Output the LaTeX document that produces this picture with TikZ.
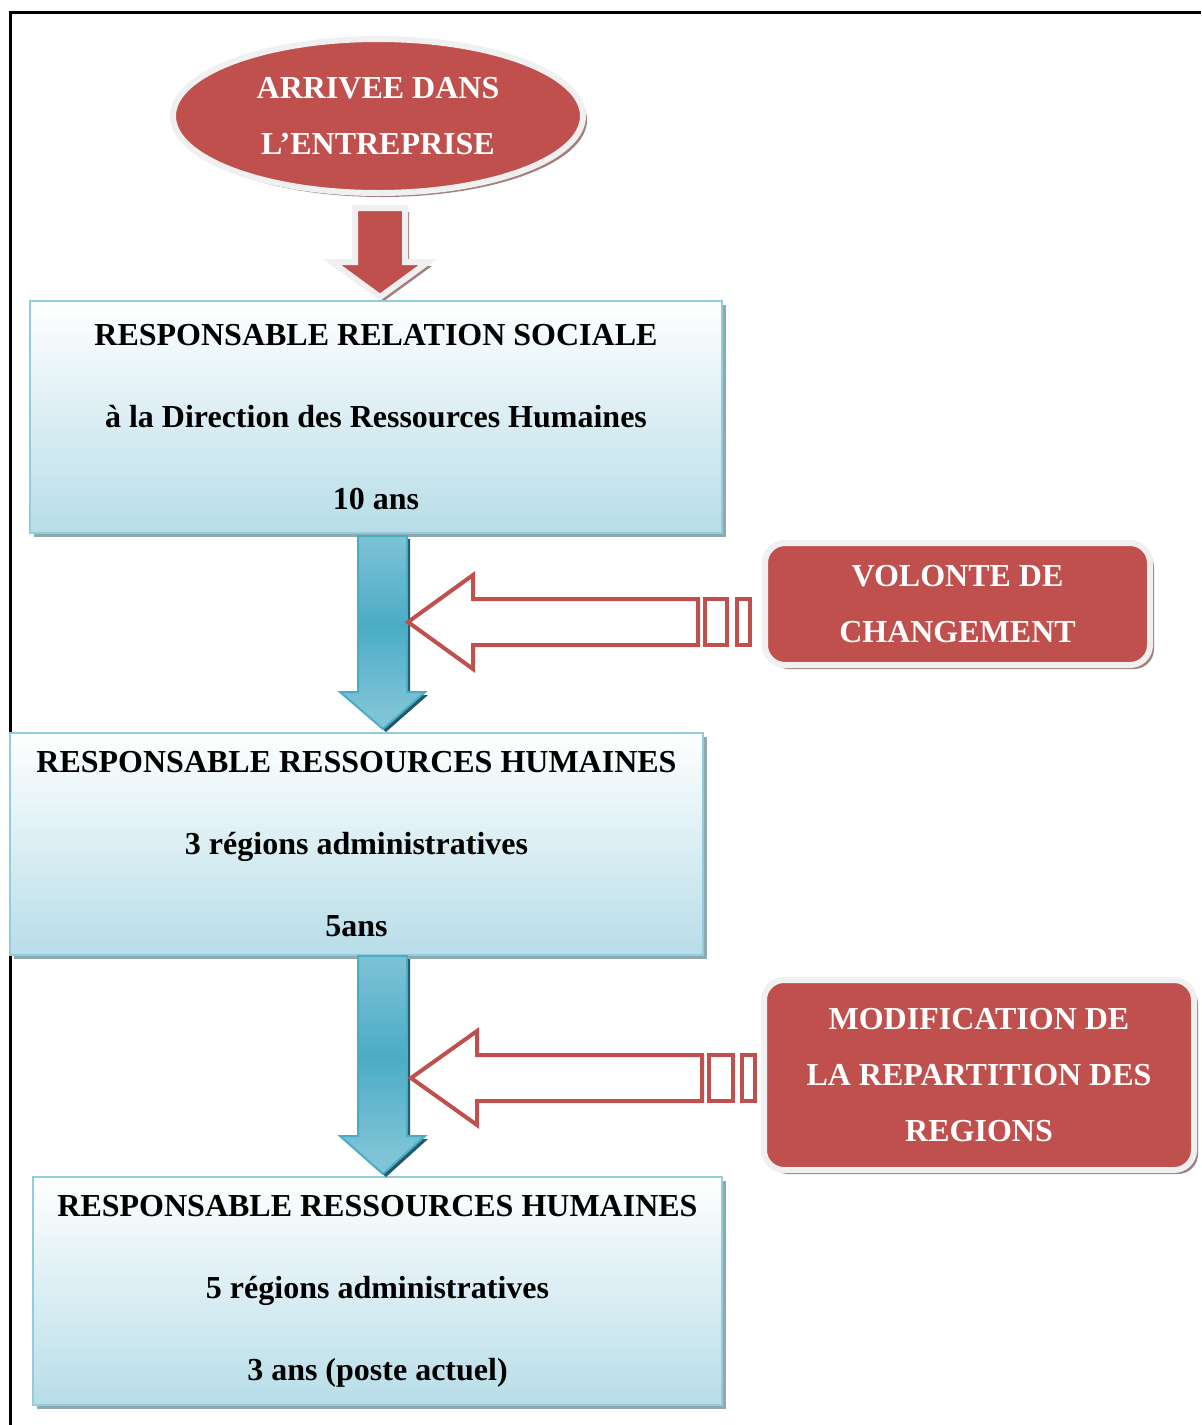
\documentclass[tikz,border=0pt]{standalone}
\usepackage{fontspec}
\setmainfont{Liberation Serif}
\usetikzlibrary{positioning,shapes.geometric,shadows}
\definecolor{brique}{HTML}{C0504D}
\definecolor{ombrerouge}{HTML}{A37E7D}
\definecolor{ciel}{HTML}{B7DDE8}
\definecolor{bordbleu}{HTML}{93CDDD}
\definecolor{bleufonce}{HTML}{4BACC6}
\definecolor{ombrebleu}{HTML}{215968}
\definecolor{ombregris}{HTML}{8FA9B0}
\definecolor{liseret}{HTML}{F0F0F0}
\pgfdeclareverticalshading{passage}{100bp}{%
  color(0bp)=(bordbleu); color(30bp)=(bordbleu!70!bleufonce);
  color(52bp)=(bleufonce); color(75bp)=(bordbleu!70!bleufonce);
  color(100bp)=(bordbleu)}

\begin{document}
\begin{tikzpicture}[%
    x=0.5pt,
    y=-0.5pt,
    poste/.style={%
      rectangle,
      draw=bordbleu,
      line width=1pt,
      top color=white,
      bottom color=ciel,
      align=center,
      inner sep=0pt,
      drop shadow={shadow xshift=2pt, shadow yshift=-2pt, fill=ombregris, opacity=1},
      font=\fontsize{16}{41}\selectfont\bfseries
    },
    evenement/.style={%
      fill=brique,
      draw=liseret,
      line width=3pt,
      text=white,
      align=center,
      drop shadow={shadow xshift=2pt, shadow yshift=-2pt, fill=ombrerouge, opacity=1},
      font=\fontsize{16}{28}\selectfont\bfseries
    },
    descente/.style={%
      draw=bleufonce,
      line width=1pt,
      shading=passage,
      drop shadow={shadow xshift=1.5pt, shadow yshift=-1.5pt, fill=ombrebleu, opacity=1}
    },
    creux/.style={%
      draw=brique,
      line width=2pt,
      fill=white
    }
  ]
    \useasboundingbox (0,0) rectangle (1201,1425);
    \draw[line width=1.5pt] (10,1425) -- (10,12) -- (1201,12);

    % depart
    \node[evenement, ellipse, minimum width=205pt, minimum height=77pt] (arrivee) at (378,116)
      {ARRIVEE DANS\\L'ENTREPRISE};
    \draw[evenement] (355,208) -- (405,208) -- (405,262) -- (428,262) -- (380,297)
      -- (332,262) -- (355,262) -- cycle;

    % postes
    \node[poste, minimum width=346pt, minimum height=116pt] (rrs) at (376,417)
      {RESPONSABLE RELATION SOCIALE\\à la Direction des Ressources Humaines\\10 ans};
    \node[poste, minimum width=346.5pt, minimum height=111pt] (rrh3) at (356.5,844)
      {RESPONSABLE RESSOURCES HUMAINES\\3 régions administratives\\5ans};
    \node[poste, minimum width=344.5pt, minimum height=114pt] (rrh5) at (377.5,1291)
      {RESPONSABLE RESSOURCES HUMAINES\\5 régions administratives\\3 ans (poste actuel)};

    % passages
    \draw[descente] (358,536) -- (407,536) -- (407,692) -- (425,692) -- (383,729)
      -- (340,692) -- (358,692) -- cycle;
    \draw[descente] (358,956) -- (407,956) -- (407,1136) -- (425,1136) -- (383,1174)
      -- (340,1136) -- (358,1136) -- cycle;

    % causes
    \node[evenement, rounded corners=10pt, minimum width=192.5pt, minimum height=61pt] (volonte) at (957.5,604)
      {VOLONTE DE\\CHANGEMENT};
    \node[evenement, rounded corners=10pt, minimum width=215pt, minimum height=95pt] (repartition) at (979,1075)
      {MODIFICATION DE\\LA REPARTITION DES\\REGIONS};

    \draw[creux] (408,622) -- (473,575) -- (473,599) -- (698,599) -- (698,645)
      -- (473,645) -- (473,669) -- cycle;
    \draw[creux] (705,599) rectangle (727,645);
    \draw[creux] (737,599) rectangle (750,645);

    \draw[creux] (411,1078) -- (477,1031) -- (477,1055) -- (702,1055) -- (702,1101)
      -- (477,1101) -- (477,1125) -- cycle;
    \draw[creux] (709,1055) rectangle (733,1101);
    \draw[creux] (742,1055) rectangle (755,1101);
  \end{tikzpicture}
\end{document}
